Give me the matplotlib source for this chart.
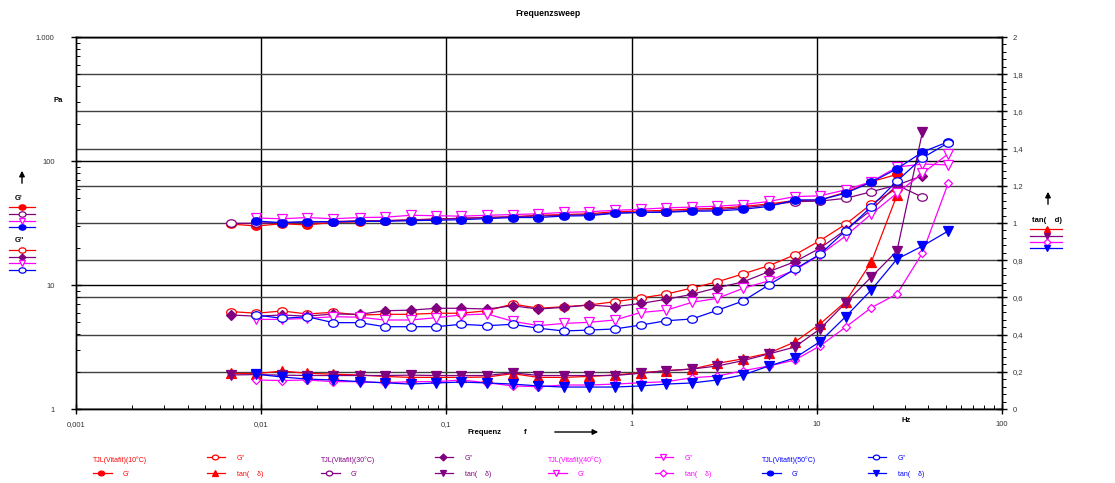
import numpy as np
import matplotlib
matplotlib.use('Agg')
import matplotlib.pyplot as plt
from matplotlib.lines import Line2D
from matplotlib.path import Path
from matplotlib.transforms import Affine2D
from matplotlib.ticker import MultipleLocator, NullFormatter, LogLocator

plt.rcParams['font.family'] = ['Liberation Sans', 'DejaVu Sans']

# frequency points (Hz)
freq = [0.0069, 0.0094, 0.013, 0.0177, 0.0245, 0.034, 0.0465, 0.064, 0.088,
        0.12, 0.166, 0.228, 0.314, 0.43, 0.59, 0.81, 1.12, 1.54, 2.12, 2.9,
        4.0, 5.5, 7.6, 10.4, 14.3, 19.7, 27.1, 37.2, 51.2]

# TJL(Vitafit)(10°C) -> freq[0:27]
gp_10 = [31, 29.9, 31.2, 30.5, 32, 32.3, 33, 33.5, 34, 34.5, 35, 35.5, 36.5, 37,
         37.5, 39, 39.5, 40, 41, 41.5, 43, 45, 48, 48.5, 56, 68, 78]
gpp_10 = [6.1, 5.92, 6.17, 5.84, 6.02, 5.73, 5.8, 5.8, 5.92, 5.92, 6.2, 7.03, 6.49,
          6.68, 6.9, 7.33, 7.85, 8.45, 9.46, 10.6, 12.3, 14.3, 17.5, 22.8, 30.9, 45, 60]
tan_10 = [0.192, 0.19, 0.204, 0.192, 0.187, 0.183, 0.175, 0.17, 0.17, 0.17, 0.172,
          0.19, 0.17, 0.17, 0.175, 0.183, 0.195, 0.206, 0.215, 0.245, 0.27, 0.30,
          0.36, 0.457, 0.577, 0.79, 1.15]

# TJL(Vitafit)(30°C) -> freq[0:28]
gp_30 = [31.4, 31.5, 32, 32, 32.5, 33, 33, 33.5, 34, 34.5, 35, 35.5, 36, 36.5, 37,
         38, 38.5, 39, 40, 40.5, 42, 44, 47, 47.5, 50, 56.5, 64, 51]
gpp_30 = [5.73, 5.6, 5.73, 5.6, 5.84, 5.8, 6.2, 6.27, 6.49, 6.49, 6.4, 6.8, 6.4,
          6.6, 6.9, 6.68, 7.1, 7.67, 8.42, 9.5, 10.6, 12.8, 15.4, 19.8, 27.8, 40.3,
          64, 76]
tan_30 = [0.183, 0.185, 0.182, 0.18, 0.18, 0.18, 0.18, 0.182, 0.18, 0.18, 0.18,
          0.195, 0.18, 0.18, 0.18, 0.18, 0.192, 0.206, 0.215, 0.231, 0.26, 0.296,
          0.333, 0.43, 0.57, 0.71, 0.85, 1.49]

# TJL(Vitafit)(40°C) -> freq[1:29]
gp_40 = [34.7, 34.2, 35, 34.2, 35, 35.2, 36.5, 36.2, 35.9, 36.5, 37, 37.5, 38.5,
         39, 40, 40.8, 41.9, 42.5, 43.2, 44.5, 47.2, 51.6, 52.4, 58.5, 68.1, 89.3,
         94.5, 93]
gpp_40 = [5.28, 5.28, 5.38, 5.55, 5.5, 5.22, 5.22, 5.45, 5.73, 5.84, 5.1, 4.7, 4.9,
          5.0, 5.22, 6.0, 6.27, 7.25, 7.8, 9.4, 10.8, 13.2, 17.5, 24.8, 37.4, 55,
          79.5, 114]
tan_40 = [0.156, 0.153, 0.156, 0.147, 0.147, 0.141, 0.147, 0.147, 0.156, 0.141,
          0.124, 0.12, 0.129, 0.129, 0.134, 0.141, 0.147, 0.168, 0.177, 0.206,
          0.231, 0.263, 0.339, 0.44, 0.545, 0.618, 0.839, 1.213]

# TJL(Vitafit)(50°C) -> freq[1:29]
gp_50 = [32.8, 31.8, 32.5, 32.3, 32.6, 32.6, 33, 33.3, 33.6, 34.3, 35, 35, 36, 36.2,
         37.9, 38.5, 38.6, 39.4, 39.5, 40.8, 43, 48.5, 48.5, 55, 67.5, 86.6, 118, 143]
gpp_50 = [5.73, 5.38, 5.55, 4.97, 4.97, 4.61, 4.61, 4.61, 4.82, 4.7, 4.82, 4.48,
          4.26, 4.33, 4.42, 4.75, 5.15, 5.32, 6.25, 7.43, 10.0, 13.4, 17.7, 27.4,
          42.8, 69, 106, 140]
tan_50 = [0.187, 0.172, 0.161, 0.156, 0.147, 0.141, 0.134, 0.14, 0.145, 0.14, 0.134,
          0.124, 0.118, 0.118, 0.118, 0.124, 0.134, 0.14, 0.156, 0.183, 0.231, 0.274,
          0.362, 0.496, 0.64, 0.806, 0.876, 0.957]

RED, PURPLE, MAGENTA, BLUE = '#ff0000', '#800080', '#ff00ff', '#0000ff'

# slightly flattened circle like the original
_c = Path.unit_circle()
ELL = Path(Affine2D().scale(1.3, 1.0).transform(_c.vertices), _c.codes)

W, H = 1115, 483
def fx(px):
    return px / W
def fy(py):
    return 1 - py / H

fig = plt.figure(figsize=(W / 100, H / 100), dpi=100)
fig.patch.set_facecolor('white')
ax = fig.add_axes([fx(76), fy(409), fx(1002) - fx(76), fy(37) - fy(409)])
ax2 = ax.twinx()
ax.set_zorder(ax2.get_zorder() + 1)
ax.patch.set_visible(False)
ax2.patch.set_visible(True)
ax2.patch.set_facecolor('white')

ax.set_xscale('log')
ax.set_yscale('log')
ax.set_xlim(0.001, 100)
ax.set_ylim(1, 1000)
ax2.set_ylim(0, 2)


def series(axis, x, y, color, marker, filled, ms=6.5):
    axis.plot(x, y, color=color, lw=0.9, marker=marker, ms=ms,
              mfc=color if filled else 'white', mec=color, mew=0.9, zorder=3)


# G' / G'' on the left axis
series(ax, freq[0:27], gp_10, RED, ELL, True, 7)
series(ax, freq[0:27], gpp_10, RED, ELL, False, 7)
series(ax, freq[0:28], gp_30, PURPLE, ELL, False, 7)
series(ax, freq[0:28], gpp_30, PURPLE, 'D', True, 5)
series(ax, freq[1:29], gp_40, MAGENTA, 'v', False, 6.5)
series(ax, freq[1:29], gpp_40, MAGENTA, 'v', False, 6.5)
series(ax, freq[1:29], gp_50, BLUE, ELL, True, 7)
series(ax, freq[1:29], gpp_50, BLUE, ELL, False, 7)

# tan(delta) on the right axis
series(ax2, freq[0:27], tan_10, RED, '^', True, 6.5)
series(ax2, freq[0:28], tan_30, PURPLE, 'v', True, 6.5)
series(ax2, freq[1:29], tan_40, MAGENTA, 'D', False, 4.5)
series(ax2, freq[1:29], tan_50, BLUE, 'v', True, 6.5)

# grids
ax.set_axisbelow(True)
ax.grid(axis='y', which='major', color='black', lw=1)
ax2.grid(axis='y', which='major', color='#404040', lw=1, zorder=0)
for v in [0.01, 0.1, 1, 10]:
    ax2.axvline(v, color='black', lw=1, zorder=0.5)

# ticks
ax.set_xticks([0.001, 0.01, 0.1, 1, 10, 100],
              labels=['0,001', '0,01', '0,1', '1', '10', '100'])
ax.set_yticks([1, 10, 100, 1000], labels=['1', '10', '100', '1.000'])
ax.xaxis.set_minor_locator(LogLocator(subs=np.arange(2, 10)))
ax.yaxis.set_minor_locator(LogLocator(subs=np.arange(2, 10)))
ax.xaxis.set_minor_formatter(NullFormatter())
ax.yaxis.set_minor_formatter(NullFormatter())
ax2.set_yticks([0, 0.2, 0.4, 0.6, 0.8, 1, 1.2, 1.4, 1.6, 1.8, 2],
               labels=['0', '0,2', '0,4', '0,6', '0,8', '1', '1,2', '1,4', '1,6', '1,8', '2'])
ax2.yaxis.set_minor_locator(MultipleLocator(0.04))

ax.tick_params(axis='y', which='major', direction='inout', length=7, width=1,
               labelsize=5.5, pad=12, labelcolor='#333333')
ax.tick_params(axis='x', which='major', direction='inout', length=7, width=1,
               labelsize=5.5, pad=5, labelcolor='#333333')
ax.tick_params(which='minor', direction='in', length=3, width=0.7)
ax2.tick_params(axis='y', which='major', direction='inout', length=7, width=1,
                labelsize=5.5, pad=4, labelcolor='#333333')
ax2.tick_params(axis='y', which='minor', direction='out', length=3, width=0.7)

for a in (ax, ax2):
    for s in a.spines.values():
        s.set_linewidth(1)
        s.set_color('black')

# texts
fig.text(fx(548), fy(14), 'Frequenzsweep', ha='center', va='center',
         fontsize=6.2, fontweight='bold')
fig.text(fx(58), fy(100), 'Pa', ha='center', va='center', fontsize=5.5, fontweight='bold')
fig.text(fx(906), fy(421), 'Hz', ha='center', va='center', fontsize=5.5, fontweight='bold')
fig.text(fx(467), fy(432), 'Frequenz', ha='left', va='center', fontsize=5.5, fontweight='bold')
fig.text(fx(525), fy(432), 'f', ha='center', va='center', fontsize=5.5, fontweight='bold')
fig.add_artist(matplotlib.patches.FancyArrowPatch(
    (fx(552), fy(432)), (fx(601), fy(432)), transform=fig.transFigure,
    arrowstyle='-|>', mutation_scale=8, color='black', lw=1))

# left legend
fig.add_artist(matplotlib.patches.FancyArrowPatch(
    (fx(22), fy(186)), (fx(22), fy(168)), transform=fig.transFigure,
    arrowstyle='-|>', mutation_scale=8, color='black', lw=1))
fig.text(fx(15), fy(199), "G'", ha='left', va='center', fontsize=5.5, fontweight='bold')
fig.text(fx(15), fy(241), 'G"', ha='left', va='center', fontsize=5.5, fontweight='bold')


def leg_line(x0, x1, xm, py, color, marker, filled, ms):
    fig.add_artist(Line2D([fx(x0), fx(x1)], [fy(py), fy(py)], transform=fig.transFigure,
                          color=color, lw=0.9))
    fig.add_artist(Line2D([fx(xm)], [fy(py)], transform=fig.transFigure, lw=0,
                          marker=marker, ms=ms, mfc=color if filled else 'white',
                          mec=color, mew=0.9))


left_items = [(207, RED, ELL, True, 5), (214, PURPLE, ELL, False, 5),
              (220.5, MAGENTA, 'v', False, 5), (227, BLUE, ELL, True, 5),
              (250, RED, ELL, False, 5), (256.5, PURPLE, 'D', True, 3.5),
              (263, MAGENTA, 'v', False, 5), (270, BLUE, ELL, False, 5)]
for py, c, m, f, ms in left_items:
    leg_line(9, 35, 22, py, c, m, f, ms)

# right legend
fig.add_artist(matplotlib.patches.FancyArrowPatch(
    (fx(1048), fy(207)), (fx(1048), fy(189)), transform=fig.transFigure,
    arrowstyle='-|>', mutation_scale=8, color='black', lw=1))
fig.text(fx(1032), fy(221), 'tan(    d)', ha='left', va='center', fontsize=5.5,
         fontweight='bold')
right_items = [(229, RED, '^', True, 5), (235.5, PURPLE, 'v', True, 5),
               (242, MAGENTA, 'D', False, 3.5), (248.5, BLUE, 'v', True, 5)]
for py, c, m, f, ms in right_items:
    leg_line(1030, 1062, 1047, py, c, m, f, ms)

# bottom legend
groups = [('TJL(Vitafit)(10°C)', RED, 93, 207,
           (ELL, True), (ELL, False), ('^', True)),
          ('TJL(Vitafit)(30°C)', PURPLE, 321, 435,
           (ELL, False), ('D', True), ('v', True)),
          ('TJL(Vitafit)(40°C)', MAGENTA, 548, 655,
           ('v', False), ('v', False), ('D', False)),
          ('TJL(Vitafit)(50°C)', BLUE, 762, 868,
           (ELL, True), (ELL, False), ('v', True))]
for name, c, x0, x1, gp, gpp, tn in groups:
    fig.text(fx(x0), fy(460), name, ha='left', va='center', fontsize=5, color=c)
    # G' row 2, first column
    leg_line(x0, x0 + 19, x0 + 8, 473, c, gp[0], gp[1], 4.5 if gp[0] != 'D' else 3.5)
    fig.text(fx(x0 + 30), fy(475), "G'", ha='left', va='center', fontsize=5, color=c)
    # G'' row 1, second column
    leg_line(x1, x1 + 18, x1 + 8, 457, c, gpp[0], gpp[1], 4.5 if gpp[0] != 'D' else 3.5)
    fig.text(fx(x1 + 30), fy(459), 'G"', ha='left', va='center', fontsize=5, color=c)
    # tan row 2, second column
    leg_line(x1, x1 + 18, x1 + 8, 473, c, tn[0], tn[1], 4.5 if tn[0] != 'D' else 3.5)
    fig.text(fx(x1 + 30), fy(475), 'tan(    δ)', ha='left', va='center', fontsize=5, color=c)

fig.savefig('out.png', dpi=100)
